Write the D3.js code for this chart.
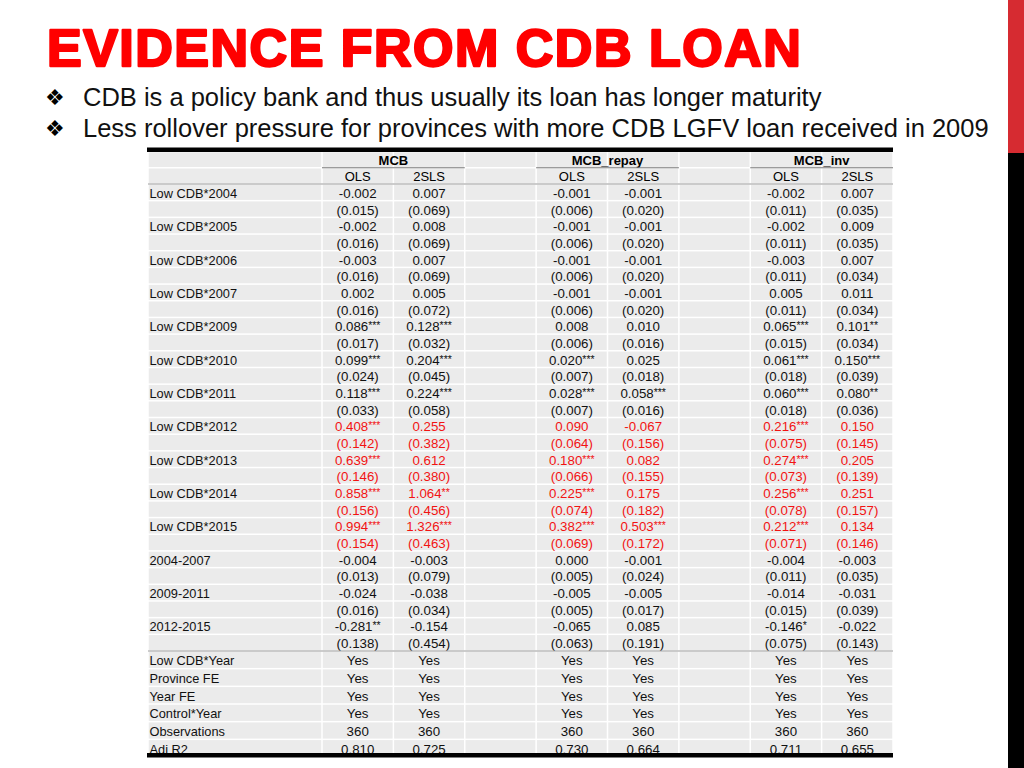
<!DOCTYPE html>
<html>
<head>
<meta charset="utf-8">
<script src="https://cdn.jsdelivr.net/npm/d3@7"></script>
<style>
  body { margin: 0; background: #fff; }
  svg { display: block; font-family: "Liberation Sans", Arial, sans-serif; }
</style>
</head>
<body>
<script>
// slide text
var title = "EVIDENCE FROM CDB LOAN";
var bullets = [
  "CDB is a policy bank and thus usually its loan has longer maturity",
  "Less rollover pressure for provinces with more CDB LGFV loan received in 2009"
];

// table rows
var varLabels = ["Low CDB*2004", "Low CDB*2005", "Low CDB*2006", "Low CDB*2007",
  "Low CDB*2009", "Low CDB*2010", "Low CDB*2011", "Low CDB*2012", "Low CDB*2013",
  "Low CDB*2014", "Low CDB*2015", "2004-2007", "2009-2011", "2012-2015"];
var redVars = ["Low CDB*2012", "Low CDB*2013", "Low CDB*2014", "Low CDB*2015"];
var statLabels = ["Low CDB*Year", "Province FE", "Year FE", "Control*Year", "Observations", "Adj R2"];
var models = ["MCB", "MCB_repay", "MCB_inv"];
var methods = ["OLS", "2SLS"];

// MCB
var mcbOlsCoef  = [-0.002, -0.002, -0.003, 0.002, 0.086, 0.099, 0.118, 0.408, 0.639, 0.858, 0.994, -0.004, -0.024, -0.281];
var mcbOlsStars = ["", "", "", "", "***", "***", "***", "***", "***", "***", "***", "", "", "**"];
var mcbOlsSe    = [0.015, 0.016, 0.016, 0.016, 0.017, 0.024, 0.033, 0.142, 0.146, 0.156, 0.154, 0.013, 0.016, 0.138];
var mcb2slsCoef  = [0.007, 0.008, 0.007, 0.005, 0.128, 0.204, 0.224, 0.255, 0.612, 1.064, 1.326, -0.003, -0.038, -0.154];
var mcb2slsStars = ["", "", "", "", "***", "***", "***", "", "", "**", "***", "", "", ""];
var mcb2slsSe    = [0.069, 0.069, 0.069, 0.072, 0.032, 0.045, 0.058, 0.382, 0.380, 0.456, 0.463, 0.079, 0.034, 0.454];
// MCB_repay
var repayOlsCoef  = [-0.001, -0.001, -0.001, -0.001, 0.008, 0.020, 0.028, 0.090, 0.180, 0.225, 0.382, 0.000, -0.005, -0.065];
var repayOlsStars = ["", "", "", "", "", "***", "***", "", "***", "***", "***", "", "", ""];
var repayOlsSe    = [0.006, 0.006, 0.006, 0.006, 0.006, 0.007, 0.007, 0.064, 0.066, 0.074, 0.069, 0.005, 0.005, 0.063];
var repay2slsCoef  = [-0.001, -0.001, -0.001, -0.001, 0.010, 0.025, 0.058, -0.067, 0.082, 0.175, 0.503, -0.001, -0.005, 0.085];
var repay2slsStars = ["", "", "", "", "", "", "***", "", "", "", "***", "", "", ""];
var repay2slsSe    = [0.020, 0.020, 0.020, 0.020, 0.016, 0.018, 0.016, 0.156, 0.155, 0.182, 0.172, 0.024, 0.017, 0.191];
// MCB_inv
var invOlsCoef  = [-0.002, -0.002, -0.003, 0.005, 0.065, 0.061, 0.060, 0.216, 0.274, 0.256, 0.212, -0.004, -0.014, -0.146];
var invOlsStars = ["", "", "", "", "***", "***", "***", "***", "***", "***", "***", "", "", "*"];
var invOlsSe    = [0.011, 0.011, 0.011, 0.011, 0.015, 0.018, 0.018, 0.075, 0.073, 0.078, 0.071, 0.011, 0.015, 0.075];
var inv2slsCoef  = [0.007, 0.009, 0.007, 0.011, 0.101, 0.150, 0.080, 0.150, 0.205, 0.251, 0.134, -0.003, -0.031, -0.022];
var inv2slsStars = ["", "", "", "", "**", "***", "**", "", "", "", "", "", "", ""];
var inv2slsSe    = [0.035, 0.035, 0.034, 0.034, 0.034, 0.039, 0.036, 0.145, 0.139, 0.157, 0.146, 0.035, 0.039, 0.143];

var controls = ["Yes", "Yes", "Yes", "Yes", "Yes", "Yes"];
var observations = [360, 360, 360, 360, 360, 360];
var adjR2 = [0.810, 0.725, 0.730, 0.664, 0.711, 0.655];

var w = 1024, h = 768;
// plain hyphen for negatives, like the source table
var fmt = d3.formatLocale({decimal: ".", thousands: ",", grouping: [3], currency: ["", ""], minus: "-"}).format(".3f");
var red = "#f21313", cellFill = "#ebebeb";

// build the column table (model, method) -> data
var columns = [
  {model: 0, method: 0, coef: mcbOlsCoef, stars: mcbOlsStars, se: mcbOlsSe},
  {model: 0, method: 1, coef: mcb2slsCoef, stars: mcb2slsStars, se: mcb2slsSe},
  {model: 1, method: 0, coef: repayOlsCoef, stars: repayOlsStars, se: repayOlsSe},
  {model: 1, method: 1, coef: repay2slsCoef, stars: repay2slsStars, se: repay2slsSe},
  {model: 2, method: 0, coef: invOlsCoef, stars: invOlsStars, se: invOlsSe},
  {model: 2, method: 1, coef: inv2slsCoef, stars: inv2slsStars, se: inv2slsSe}
];
columns.forEach(function(c, i) { c.slot = c.model * 3 + c.method; c.i = i; });

var svg = d3.select("body").append("svg")
    .attr("width", w)
    .attr("height", h);

// side strip
svg.append("rect").attr("x", 1008).attr("y", 0).attr("width", 16).attr("height", 153).attr("fill", "#d62b31");
svg.append("rect").attr("x", 1008).attr("y", 153).attr("width", 16).attr("height", h - 153).attr("fill", "#000");

// title (heavy stroke to get the fat look of the slide font)
svg.append("text")
    .attr("x", 47)
    .attr("y", 66)
    .attr("fill", "#ff0000")
    .attr("stroke", "#ff0000")
    .attr("stroke-width", 2.4)
    .attr("stroke-linejoin", "round")
    .attr("font-size", 52)
    .attr("letter-spacing", 1.5)
    .attr("font-weight", "bold")
    .text(title);

// bullets
var bl = svg.selectAll(".bullet")
    .data(bullets)
  .enter().append("g")
    .attr("class", "bullet")
    .attr("transform", function(d, i) { return "translate(0," + (106 + i * 31) + ")"; });
bl.append("text")
    .attr("x", 45)
    .attr("y", -1)
    .attr("font-family", "DejaVu Sans")
    .attr("font-size", 22)
    .text("\u2756");
bl.append("text")
    .attr("x", 83)
    .attr("font-size", 25.5)
    .attr("fill", "#111")
    .text(function(d) { return d; });

// table scales
var left = 148, labelEdge = 322, right = 893;
var x = d3.scaleBand().domain(d3.range(8)).range([labelEdge, right]);
var yHead = d3.scaleBand().domain([0, 1]).range([151.5, 184]);
var yBody = d3.scaleBand().domain(d3.range(varLabels.length * 2)).range([184, 651]);
var yStat = d3.scaleBand().domain(d3.range(statLabels.length)).range([651, 757]);

var table = svg.append("g");

// cell backgrounds
function cells(yScale) {
  var rows = yScale.domain();
  var slots = [-1].concat(x.domain());
  rows.forEach(function(r) {
    table.selectAll(null)
        .data(slots)
      .enter().append("rect")
        .attr("x", function(s) { return (s < 0 ? left : x(s)) + 0.75; })
        .attr("width", function(s) { return (s < 0 ? labelEdge - left : x.bandwidth()) - 1.5; })
        .attr("y", yScale(r) + 0.75)
        .attr("height", yScale.bandwidth() - 1.5)
        .attr("fill", cellFill);
  });
}
cells(yHead);
cells(yBody);
cells(yStat);

// header
table.selectAll(".model")
    .data(models)
  .enter().append("text")
    .attr("x", function(d, i) { return x(i * 3) + x.bandwidth(); })
    .attr("y", yHead(0) + yHead.bandwidth() / 2 + 5)
    .attr("text-anchor", "middle")
    .attr("font-size", 13)
    .attr("font-weight", "bold")
    .text(function(d) { return d; });
table.selectAll(".model-rule")
    .data(models)
  .enter().append("line")
    .attr("x1", function(d, i) { return x(i * 3); })
    .attr("x2", function(d, i) { return x(i * 3) + 2 * x.bandwidth(); })
    .attr("y1", yHead(1))
    .attr("y2", yHead(1))
    .attr("stroke", "#7a7a7a")
    .attr("stroke-width", 1);
table.selectAll(".method")
    .data(columns)
  .enter().append("text")
    .attr("x", function(d) { return x(d.slot) + x.bandwidth() / 2; })
    .attr("y", yHead(1) + yHead.bandwidth() / 2 + 5.5)
    .attr("text-anchor", "middle")
    .attr("font-size", 13)
    .text(function(d) { return methods[d.method]; });

// row labels
table.selectAll(".var")
    .data(varLabels)
  .enter().append("text")
    .attr("x", left + 1.5)
    .attr("y", function(d, i) { return yBody(i * 2) + yBody.bandwidth() / 2 + 5.5; })
    .attr("font-size", 12.8)
    .attr("fill", "#111")
    .text(function(d) { return d; });

// coefficients and standard errors
columns.forEach(function(c) {
  var cx = x(c.slot) + x.bandwidth() / 2;
  var coef = table.selectAll(null)
      .data(c.coef)
    .enter().append("text")
      .attr("x", cx)
      .attr("y", function(d, i) { return yBody(i * 2) + yBody.bandwidth() / 2 + 5.5; })
      .attr("text-anchor", "middle")
      .attr("font-size", 13.3)
      .attr("fill", function(d, i) { return redVars.indexOf(varLabels[i]) >= 0 ? red : "#111"; });
  coef.append("tspan").text(function(d) { return fmt(d); });
  coef.append("tspan")
      .attr("font-size", 10.5)
      .attr("dy", -2)
      .text(function(d, i) { return c.stars[i]; });

  table.selectAll(null)
      .data(c.se)
    .enter().append("text")
      .attr("x", cx)
      .attr("y", function(d, i) { return yBody(i * 2 + 1) + yBody.bandwidth() / 2 + 5.5; })
      .attr("text-anchor", "middle")
      .attr("font-size", 13.3)
      .attr("fill", function(d, i) { return redVars.indexOf(varLabels[i]) >= 0 ? red : "#111"; })
      .text(function(d) { return "(" + fmt(d) + ")"; });

  var stats = [controls[c.i], controls[c.i], controls[c.i], controls[c.i], observations[c.i], fmt(adjR2[c.i])];
  table.selectAll(null)
      .data(stats)
    .enter().append("text")
      .attr("x", cx)
      .attr("y", function(d, i) { return yStat(i) + yStat.bandwidth() / 2 + 5.5; })
      .attr("text-anchor", "middle")
      .attr("font-size", 13.3)
      .attr("fill", "#111")
      .text(function(d) { return d; });
});

table.selectAll(".stat")
    .data(statLabels)
  .enter().append("text")
    .attr("x", left + 1.5)
    .attr("y", function(d, i) { return yStat(i) + yStat.bandwidth() / 2 + 5.5; })
    .attr("font-size", 12.8)
    .attr("fill", "#111")
    .text(function(d) { return d; });

// rules
[yBody.range()[0], yStat.range()[0]].forEach(function(yy) {
  table.append("line")
      .attr("x1", left).attr("x2", right)
      .attr("y1", yy).attr("y2", yy)
      .attr("stroke", "#9a9a9a")
      .attr("stroke-width", 1.2);
});
table.append("rect").attr("x", left - 1).attr("y", 147.5).attr("width", right - left + 1).attr("height", 4.5).attr("fill", "#000");
table.append("rect").attr("x", left - 1).attr("y", 753).attr("width", right - left + 1).attr("height", 4.5).attr("fill", "#000");
</script>
</body>
</html>
